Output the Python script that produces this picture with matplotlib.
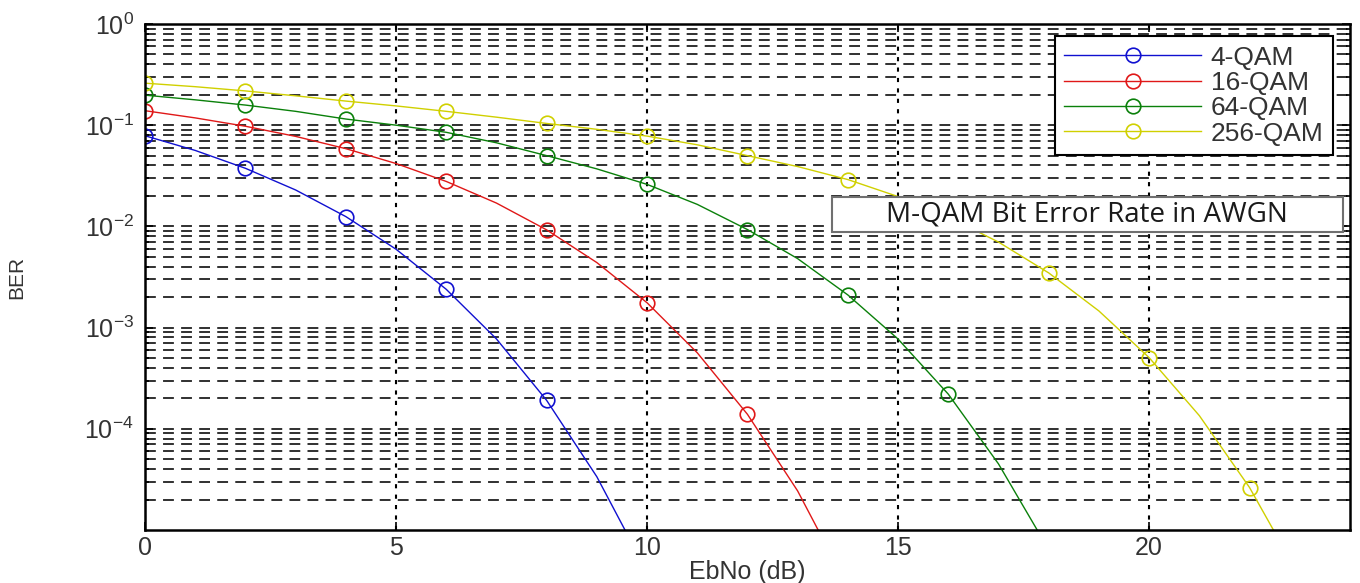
import math
import matplotlib.pyplot as plt
from matplotlib.patches import Rectangle
from matplotlib.ticker import FixedLocator, FuncFormatter, LogLocator, NullFormatter

plt.rcParams['font.family'] = ['Liberation Sans', 'DejaVu Sans']
plt.rcParams['mathtext.fontset'] = 'custom'
plt.rcParams['mathtext.rm'] = 'Liberation Sans'
plt.rcParams['mathtext.it'] = 'Liberation Sans'

# EbNo (dB) в целых шагах, маркеры на каждом втором
ebno_4 = [0, 1, 2, 3, 4, 5, 6, 7, 8, 9, 10]
ber_4 = [0.0786, 0.0563, 0.0375, 0.0229, 0.0125, 0.00595, 0.00239,
         0.000773, 0.000191, 3.36e-5, 3.87e-6]

ebno_16 = [0, 1, 2, 3, 4, 5, 6, 7, 8, 9, 10, 11, 12, 13, 14]
ber_16 = [0.139, 0.118, 0.0976, 0.0775, 0.0586, 0.0418, 0.0278, 0.0170,
          0.00924, 0.00439, 0.00176, 0.000564, 0.000139, 2.43e-5, 2.76e-6]

ebno_64 = [0, 1, 2, 3, 4, 5, 6, 7, 8, 9, 10, 11, 12, 13, 14, 15, 16, 17, 18]
ber_64 = [0.198, 0.178, 0.158, 0.137, 0.115, 0.100, 0.085, 0.067, 0.050,
          0.037, 0.026, 0.0165, 0.0093, 0.0048, 0.0021, 7.7e-4, 2.2e-4,
          4.5e-5, 6.4e-6]

ebno_256 = [0, 1, 2, 3, 4, 5, 6, 7, 8, 9, 10, 11, 12, 13, 14, 15, 16, 17,
            18, 19, 20, 21, 22, 23]
ber_256 = [0.26, 0.24, 0.218, 0.195, 0.173, 0.155, 0.137, 0.120, 0.104,
           0.091, 0.078, 0.064, 0.050, 0.039, 0.029, 0.0197, 0.0124, 0.0070,
           0.00347, 0.00146, 5.05e-4, 1.35e-4, 2.63e-5, 3.45e-6]

labels = ['4-QAM', '16-QAM', '64-QAM', '256-QAM']
colors = ['#1010d0', '#e01818', '#0a800a', '#d0d000']

fig = plt.figure(figsize=(13.6, 5.83), dpi=100)
ax = fig.add_axes([0.1066, 0.0909, 0.886, 0.868])

series = [(ebno_4, ber_4), (ebno_16, ber_16), (ebno_64, ber_64), (ebno_256, ber_256)]
for (x, y), lab, col in zip(series, labels, colors):
    ax.semilogy(x, y, '-o', color=col, lw=1.0, markersize=10.5,
                markerfacecolor='none', markeredgewidth=1.2,
                markevery=slice(0, None, 2), label=lab)

ax.set_xlim(0, 24)
ax.set_ylim(1e-5, 1)
ax.set_xticks([0, 5, 10, 15, 20])
ax.yaxis.set_major_locator(FixedLocator([1e-4, 1e-3, 1e-2, 1e-1, 1]))
ax.yaxis.set_major_formatter(FuncFormatter(
    lambda v, p: r'$10^{%d}$' % round(math.log10(v))))
ax.yaxis.set_minor_locator(LogLocator(base=10, subs=range(2, 10), numticks=20))
ax.yaxis.set_minor_formatter(NullFormatter())

# сетка в стиле MATLAB
ax.grid(True, axis='x', which='major', color='black', lw=1.5, linestyle=(0, (2, 3)))
ax.grid(True, axis='y', which='major', color='#202020', lw=1.3, linestyle=(0, (6, 4)))
ax.grid(True, axis='y', which='minor', color='#202020', lw=1.3, linestyle=(0, (6, 4)))

ax.tick_params(axis='both', which='both', direction='in', labelsize=18, width=1.2,
               labelcolor='#333333')
ax.tick_params(axis='both', which='major', length=6)
ax.tick_params(axis='y', which='major', pad=8)
ax.tick_params(axis='x', which='major', pad=4)
ax.tick_params(axis='y', which='minor', length=3)
ax.tick_params(top=True, right=True, which='both')
for s in ax.spines.values():
    s.set_linewidth(1.8)

ax.set_xlabel('EbNo (dB)', fontsize=18, labelpad=0, color='#333333')
ax.set_ylabel('BER', fontsize=15, labelpad=42, color='#333333')

leg = ax.legend(loc='upper right', bbox_to_anchor=(0.990, 0.986), fontsize=19,
                fancybox=False, framealpha=1, edgecolor='black',
                handlelength=5.2, labelspacing=0.05, borderpad=0.35,
                handletextpad=0.35, borderaxespad=0.2, numpoints=1)
leg.get_frame().set_linewidth(1.5)
for t in leg.get_texts():
    t.set_color('#333333')

# подпись-заголовок в рамке
ax.add_patch(Rectangle((0.570, 0.589), 0.424, 0.069, transform=ax.transAxes,
                       facecolor='white', edgecolor='#707070', lw=1.5, zorder=5))
ax.text(0.782, 0.6235, 'M-QAM Bit Error Rate in AWGN', transform=ax.transAxes,
        ha='center', va='center', fontsize=20, family=['Open Sans', 'DejaVu Sans'],
        color='#1a1a1a', zorder=6)

fig.savefig('out.png', dpi=100)
